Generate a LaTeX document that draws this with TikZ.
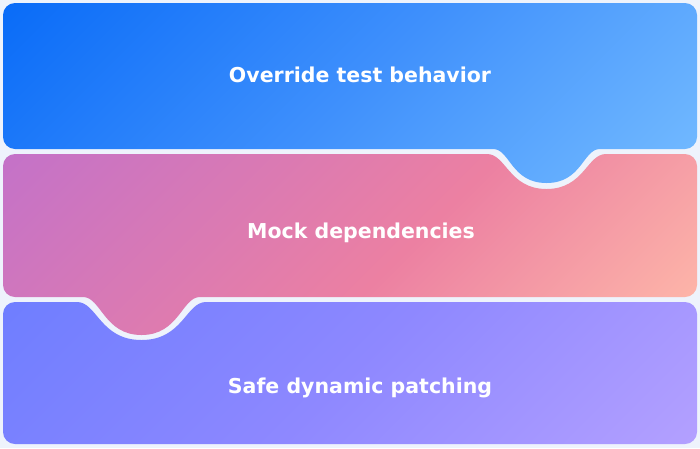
\documentclass[tikz,border=0pt]{standalone}
\usepackage{fontspec}
\usepackage{xcolor}
\usepackage{tikz}
\newfontfamily\bandfont{DejaVu Sans}[BoldFont={DejaVu Sans Bold}]
\definecolor{pagebg}{HTML}{EEF3FC}
\definecolor{blueA}{HTML}{0A6CF8}
\definecolor{blueB}{HTML}{3F90FC}
\definecolor{blueC}{HTML}{74BBFF}
\definecolor{pinkA}{HTML}{C472C8}
\definecolor{pinkB}{HTML}{EC80A2}
\definecolor{pinkC}{HTML}{FFBAA9}
\definecolor{violetA}{HTML}{6F7EFF}
\definecolor{violetB}{HTML}{8E88FF}
\definecolor{violetC}{HTML}{B3A0FF}
\pgfdeclarehorizontalshading{blueband}{100bp}{color(0bp)=(blueA); color(15bp)=(blueA); color(50bp)=(blueB); color(85bp)=(blueC); color(100bp)=(blueC)}
\pgfdeclarehorizontalshading{pinkband}{100bp}{color(0bp)=(pinkA); color(15bp)=(pinkA); color(55bp)=(pinkB); color(85bp)=(pinkC); color(100bp)=(pinkC)}
\pgfdeclarehorizontalshading{violetband}{100bp}{color(0bp)=(violetA); color(15bp)=(violetA); color(50bp)=(violetB); color(85bp)=(violetC); color(100bp)=(violetC)}
\tikzset{
	band/.style={draw=none, shading angle=-45},
	bandlabel/.style={text=white, anchor=base, font=\bandfont\bfseries\fontsize{20.5}{24}\selectfont}
}

\begin{document}
\begin{tikzpicture}[x=1pt, y=-1pt]
		% Draw the page background
		\fill[pagebg] (0,0) rectangle (700,448);
		\useasboundingbox (0,0) rectangle (700,448);

		% Draw the top band with its bump
		\shade[band, shading=blueband] (3,15) .. controls (3,8.4) and (8.4,3) .. (15,3) -- (685,3)
			.. controls (691.6,3) and (697,8.4) .. (697,15) -- (697,137)
			.. controls (697,143.6) and (691.6,149) .. (685,149) -- (600,149)
			.. controls (583,149) and (582,183) .. (546.5,183)
			.. controls (511,183) and (510,149) .. (493,149) -- (15,149)
			.. controls (8.4,149) and (3,143.6) .. (3,137) -- cycle;

		% Draw the middle band with its notch and bump
		\shade[band, shading=pinkband] (3,166) .. controls (3,159.4) and (8.4,154) .. (15,154) -- (487,154)
			.. controls (506,154) and (509,189) .. (546.5,189)
			.. controls (584,189) and (587,154) .. (606,154) -- (685,154)
			.. controls (691.6,154) and (697,159.4) .. (697,166) -- (697,285)
			.. controls (697,291.6) and (691.6,297) .. (685,297) -- (200,297)
			.. controls (182,297) and (179,335) .. (141.5,335)
			.. controls (104,335) and (101,297) .. (83,297) -- (15,297)
			.. controls (8.4,297) and (3,291.6) .. (3,285) -- cycle;

		% Draw the bottom band with its notch
		\shade[band, shading=violetband] (3,314) .. controls (3,307.4) and (8.4,302) .. (15,302) -- (77,302)
			.. controls (97,302) and (100,340) .. (141.5,340)
			.. controls (183,340) and (186,302) .. (206,302) -- (685,302)
			.. controls (691.6,302) and (697,307.4) .. (697,314) -- (697,432)
			.. controls (697,438.6) and (691.6,444) .. (685,444) -- (15,444)
			.. controls (8.4,444) and (3,438.6) .. (3,432) -- cycle;

		% Put the labels on the bands
		\node[bandlabel] (override) at (360,82) {Override test behavior};
		\node[bandlabel] (mock) at (361,238) {Mock dependencies};
		\node[bandlabel] (safe) at (360,393) {Safe dynamic patching};
	\end{tikzpicture}
\end{document}
